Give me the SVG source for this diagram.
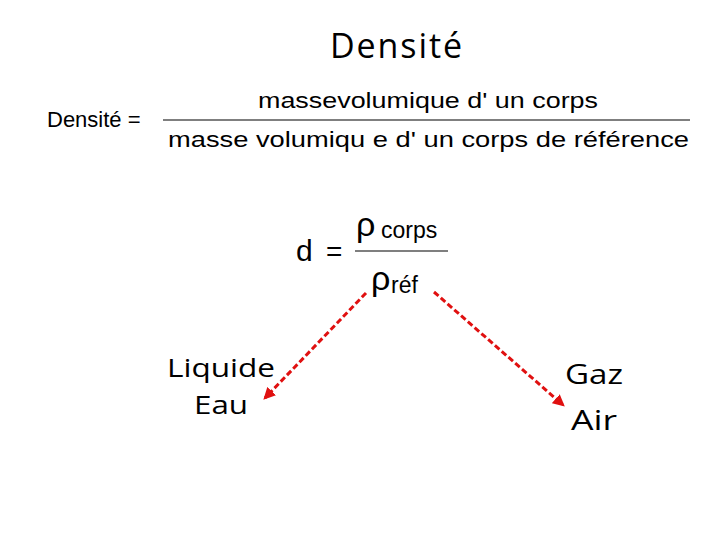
<svg xmlns="http://www.w3.org/2000/svg" width="720" height="540" viewBox="0 0 720 540">
<style>
.c{font-family:"Open Sans","Liberation Sans",sans-serif;fill:#000}
.a{font-family:"Liberation Sans",Arial,sans-serif;fill:#000}
.ln{stroke:#000;stroke-width:1.2}
.ar{stroke:#e01010;stroke-width:3;stroke-dasharray:6 3;fill:none;marker-end:url(#m)}
</style>
<defs><marker id="m" viewBox="0 0 10 10" refX="8" refY="5" markerWidth="4" markerHeight="4" orient="auto"><path d="M0,0 L10,5 L0,10 z" fill="#e01010"/></marker></defs>
<rect width="720" height="540" fill="#fff"/>
<g id="title"><text class="c" x="396" y="58" font-size="34" text-anchor="middle" textLength="132">Densité</text></g>
<g id="formula1">
<text class="a" x="47" y="127" font-size="22">Densité =</text>
<text class="a" x="258" y="108" font-size="22" textLength="340" lengthAdjust="spacingAndGlyphs">massevolumique  d' un corps</text>
<line class="ln" x1="163" y1="120" x2="690" y2="120"/>
<text class="a" x="168" y="147" font-size="22" textLength="521" lengthAdjust="spacingAndGlyphs">masse volumiqu e d' un  corps de  référence</text>
</g>
<g id="formula2">
<text class="a" x="296" y="261" font-size="30">d</text>
<text class="a" x="326" y="261" font-size="28">=</text>
<text class="a" x="356" y="236" font-size="34">ρ</text>
<text class="a" x="381" y="238" font-size="23">corps</text>
<line class="ln" x1="355" y1="251" x2="448" y2="251"/>
<text class="a" x="371" y="290" font-size="34">ρ</text>
<text class="a" x="391" y="293" font-size="23">réf</text>
</g>
<g id="liquide"><text class="c" x="167" y="377" font-size="26" textLength="108" lengthAdjust="spacingAndGlyphs">Liquide</text><text class="c" x="221" y="414" font-size="26" text-anchor="middle" textLength="54" lengthAdjust="spacingAndGlyphs">Eau</text></g>
<g id="gaz"><text class="c" x="594" y="384" font-size="28" text-anchor="middle" textLength="58" lengthAdjust="spacingAndGlyphs">Gaz</text><text class="c" x="594" y="430" font-size="28" text-anchor="middle" textLength="46" lengthAdjust="spacingAndGlyphs">Air</text></g>
<g id="connectors">
<path class="ar" d="M366,293 L265,398"/>
<path class="ar" d="M434,292 L563,405"/>
</g>
</svg>
